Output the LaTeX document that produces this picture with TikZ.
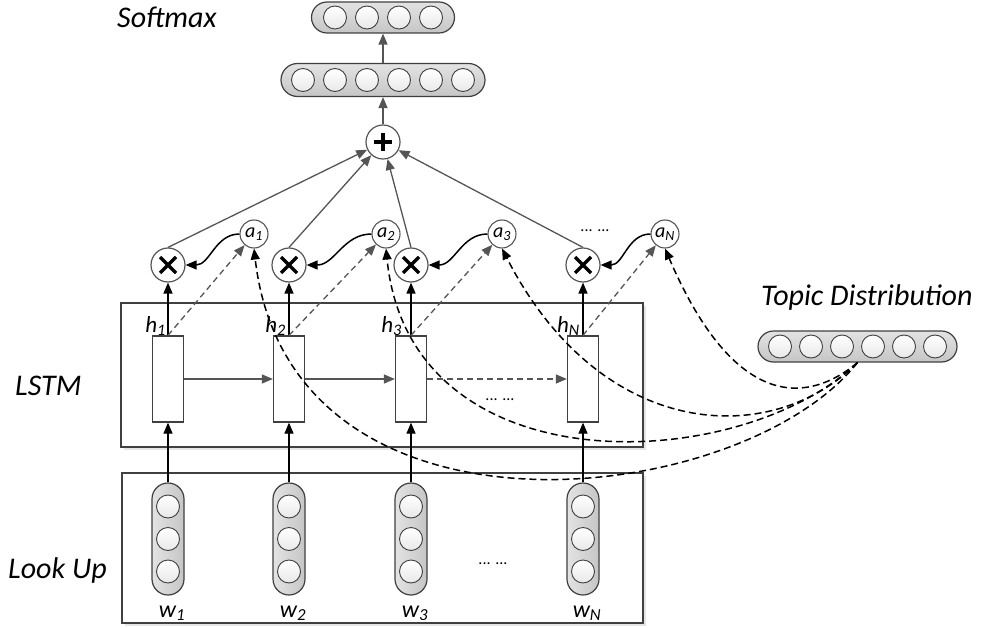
\documentclass[tikz,border=0pt]{standalone}
\usepackage{fontspec}
\setmainfont{Carlito}
\usetikzlibrary{arrows.meta,calc}
\definecolor{dg}{HTML}{404040}
\definecolor{lg}{HTML}{555555}
\begin{document}
\begin{tikzpicture}[x=1pt,y=-1pt,
  capsule/.style={draw=dg, line width=1.2pt, inner sep=0pt, top color=gray!22, bottom color=gray!45},
  vcapsule/.style={draw=dg, line width=1.2pt, inner sep=0pt, left color=gray!22, right color=gray!45, minimum width=32pt, minimum height=112pt, rounded corners=16pt},
  ball/.style={circle, draw=dg, line width=0.9pt, minimum size=23pt, inner sep=0pt, top color=white, bottom color=gray!18},
  opnode/.style={circle, draw=lg, line width=1.2pt, fill=white, minimum size=34pt, inner sep=0pt},
  anode/.style={circle, draw=lg, line width=1.1pt, fill=white, minimum size=28pt, inner sep=0pt, font=\fontsize{20}{20}\selectfont\itshape},
  cell/.style={draw=dg, line width=1.3pt, fill=white, minimum width=31pt, minimum height=86pt, inner sep=0pt},
  frame/.style={draw=dg, line width=1.5pt, fill=white},
  shadowbox/.style={fill=gray!20, draw=none},
  lab/.style={font=\fontsize{30}{30}\selectfont\itshape, inner sep=0pt},
  hlab/.style={font=\fontsize{23}{23}\selectfont\itshape, inner sep=0pt},
  wlab/.style={font=\fontsize{24}{24}\selectfont\itshape, inner sep=0pt},
  dotlab/.style={font=\fontsize{16}{16}\selectfont, inner sep=0pt},
  blk/.style={-{Triangle[length=11pt,width=9pt]}, line width=1.5pt, black},
  gry/.style={-{Triangle[length=11pt,width=9pt]}, line width=1.3pt, lg},
  gdash/.style={gry, dash pattern=on 6pt off 4pt},
  bdash/.style={blk, dash pattern=on 7pt off 4pt},
  timesop/.style={opnode, path picture={\draw[line width=3.2pt,black] (path picture bounding box.center) +(-8,-8) -- +(8,8) (path picture bounding box.center) +(-8,8) -- +(8,-8);}},
  plusop/.style={opnode, path picture={\draw[line width=3.2pt,black] (path picture bounding box.center) +(-9,0) -- +(9,0) (path picture bounding box.center) +(0,-9) -- +(0,9);}},
]
\useasboundingbox (0,0) rectangle (987,628);

% frames
\fill[shadowbox] (124,306) rectangle (646,450);
\draw[frame] (121,303) rectangle (643,447);
\fill[shadowbox] (125,476) rectangle (646,626);
\draw[frame] (122,473) rectangle (643,623);

% labels
\node[lab, anchor=base west] (lsoft) at (117,28) {Softmax};
\node[lab, anchor=base west] (llstm) at (15,395) {LSTM};
\node[lab, anchor=base west] (llook) at (8,578) {Look Up};
\node[lab, anchor=base west] (ltopic) at (761,305) {Topic Distribution};

% softmax bar
\node[capsule, minimum width=143pt, minimum height=31pt, rounded corners=15.5pt] (soft) at (383,17.5) {};
\foreach \i/\x in {1/335,2/367,3/399,4/431} \node[ball] (s\i) at (\x,17.5) {};
% hidden bar
\node[capsule, minimum width=204pt, minimum height=33pt, rounded corners=16.5pt] (bar) at (383,80) {};
\foreach \i/\x in {1/303,2/335,3/367,4/399,5/431,6/463} \node[ball] (b\i) at (\x,80) {};
% topic bar
\node[capsule, minimum width=199pt, minimum height=31pt, rounded corners=15.5pt] (topic) at (857.5,346.5) {};
\foreach \i/\x in {1/780,2/811,3/842,4/873,5/904,6/935} \node[ball] (t\i) at (\x,346.5) {};

% plus
\node[plusop] (plus) at (383,142) {};

% columns
\foreach \i/\x/\w in {1/168/1,2/289/2,3/411/3,4/583/N} {
  \node[vcapsule] (col\i) at (\x,539) {};
  \node[ball] (c\i a) at (\x,506.5) {};
  \node[ball] (c\i b) at (\x,539) {};
  \node[ball] (c\i c) at (\x,571.5) {};
  \node[wlab, anchor=base] (w\i) at (\x+4,617) {w\textsubscript{\w}};
  \node[cell] (cell\i) at (\x,379) {};
  \node[timesop] (x\i) at (\x,265) {};
}
\foreach \i/\x/\w in {1/254/1,2/386/2,3/502/3,4/665/N}
  \node[anode] (a\i) at (\x,234) {a\textsubscript{\w}};

% h labels
\node[hlab, anchor=base east] (h1) at (166,332) {h\textsubscript{1}};
\node[hlab, anchor=base east] (h2) at (286,332) {h\textsubscript{2}};
\node[hlab, anchor=base east] (h3) at (402,332) {h\textsubscript{3}};
\node[hlab, anchor=base east] (h4) at (580,332) {h\textsubscript{N}};

% dots
\node[dotlab] (d1) at (595,231) {... ...};
\node[dotlab] (d2) at (500,400) {... ...};
\node[dotlab] (d3) at (493,564) {... ...};

% column to cell
\foreach \i in {1,2,3,4} \draw[blk, line width=1.2pt] (col\i.north) -- (cell\i.south);
% recurrent arrows
\draw[gry] (cell1.east) -- (cell2.west);
\draw[gry] (cell2.east) -- (cell3.west);
\draw[gdash] (cell3.east) -- (cell4.west);

% cell to times
\foreach \i in {1,2,3,4} \draw[blk] (cell\i.north) -- (x\i.south);
% cell to attention (gray dashed)
\foreach \i in {1,2,3,4} \draw[gdash] (cell\i.north) -- (a\i);
% attention to times
\foreach \i in {1,2,3,4} \draw[blk] (a\i.west) to[out=180,in=0] (x\i.east);
% times to plus
\foreach \i in {1,2,3,4} \draw[gry] (x\i.north) -- (plus);
% plus to bars
\draw[gry] (plus.north) -- (bar.south);
\draw[gry] (bar.north) -- (soft.south);

% topic curves
\draw[bdash] (topic.south) .. controls (740,510) and (290,560) .. (a1.south);
\draw[bdash] (topic.south) .. controls (740,475) and (410,490) .. (a2.south);
\draw[bdash] (topic.south) .. controls (770,450) and (600,440) .. (a3.south);
\draw[bdash] (topic.south) .. controls (800,410) and (730,400) .. (a4.south);
\end{tikzpicture}
\end{document}
